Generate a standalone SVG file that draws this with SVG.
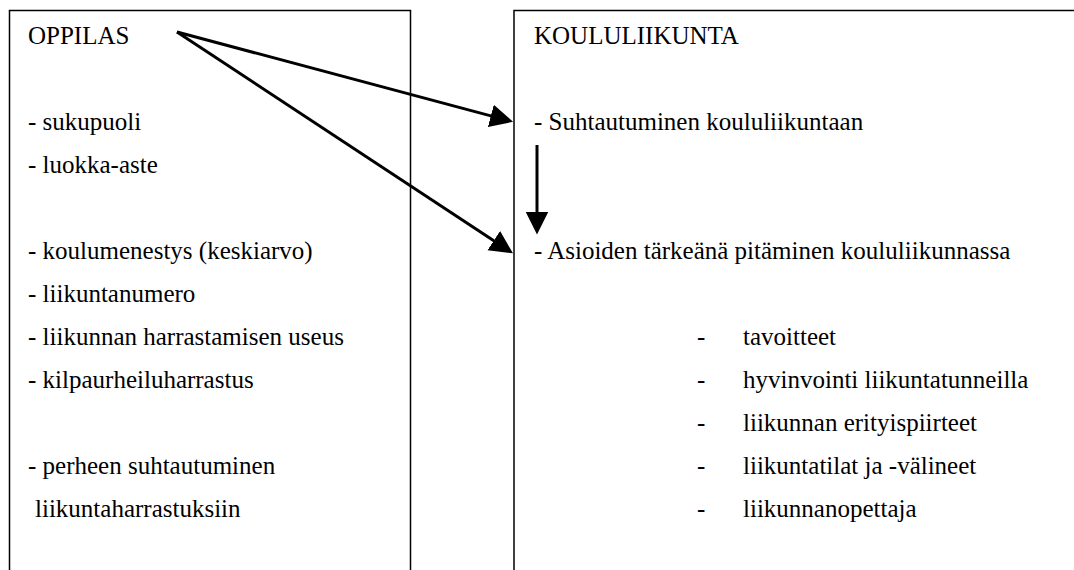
<svg xmlns="http://www.w3.org/2000/svg" width="1074" height="570" viewBox="0 0 1074 570">
  <style>
    .box { fill: none; stroke: #000; stroke-width: 1.5; }
    .t { font-family: "Liberation Serif", "Times New Roman", serif; font-size: 25px; fill: #000; }
    .arrow { fill: none; stroke: #000; stroke-width: 3; marker-end: url(#head); }
  </style>
  <defs>
    <marker id="head" viewBox="0 -12 24 24" refX="1" refY="0" markerWidth="24" markerHeight="24" markerUnits="userSpaceOnUse" orient="auto">
      <path d="M0,-11.5 L23,0 L0,11.5 Z" fill="#000"/>
    </marker>
  </defs>
  <rect width="1074" height="570" fill="#fff"/>

  <g id="oppilas">
    <path class="box" d="M9.5,572 V10.5 H410.5 V572"/>
    <text class="t" x="28" y="43.5">OPPILAS</text>
    <text class="t" x="28" y="129.5">- sukupuoli</text>
    <text class="t" x="28" y="172.5">- luokka-aste</text>
    <text class="t" x="28" y="258.5">- koulumenestys (keskiarvo)</text>
    <text class="t" x="28" y="301.5">- liikuntanumero</text>
    <text class="t" x="28" y="344.5">- liikunnan harrastamisen useus</text>
    <text class="t" x="28" y="387.5">- kilpaurheiluharrastus</text>
    <text class="t" x="28" y="473.5">- perheen suhtautuminen</text>
    <text class="t" x="35" y="516.5">liikuntaharrastuksiin</text>
  </g>

  <g id="koululiikunta">
    <path class="box" d="M514,572 V10.5 H1076"/>
    <text class="t" x="534" y="43.5">KOULULIIKUNTA</text>
    <text class="t" x="534" y="129.5">- Suhtautuminen koululiikuntaan</text>
    <text class="t" x="534" y="258.5">- Asioiden tärkeänä pitäminen koululiikunnassa</text>
    <text class="t" x="697" y="344.5">-</text>
    <text class="t" x="743" y="344.5">tavoitteet</text>
    <text class="t" x="697" y="387.5">-</text>
    <text class="t" x="743" y="387.5">hyvinvointi liikuntatunneilla</text>
    <text class="t" x="697" y="430.5">-</text>
    <text class="t" x="743" y="430.5">liikunnan erityispiirteet</text>
    <text class="t" x="697" y="473.5">-</text>
    <text class="t" x="743" y="473.5">liikuntatilat ja -välineet</text>
    <text class="t" x="697" y="516.5">-</text>
    <text class="t" x="743" y="516.5">liikunnanopettaja</text>
  </g>

  <g id="connectors">
    <path class="arrow" d="M177,32 L491.8,116.1"/>
    <path class="arrow" d="M177,32 L494.6,241.2"/>
    <path class="arrow" d="M537,145 V212.5"/>
  </g>
</svg>
